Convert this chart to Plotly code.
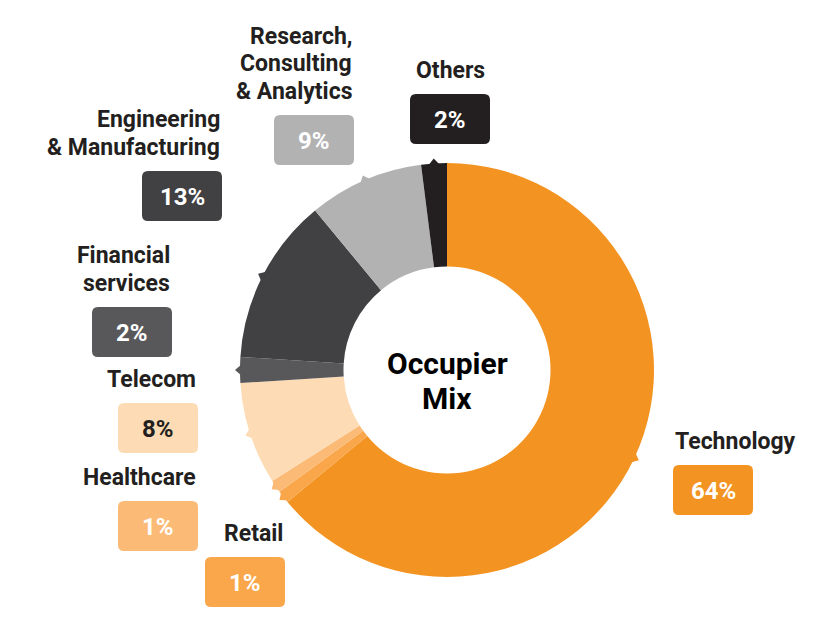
import math
import plotly.graph_objects as go

# sectors clockwise from 12 o'clock
sectors = ["Technology", "Retail", "Healthcare", "Telecom", "Financial services",
           "Engineering & Manufacturing", "Research, Consulting & Analytics", "Others"]
shares = [64, 1, 1, 8, 2, 13, 9, 2]
label_lines = [["Technology"], ["Retail"], ["Healthcare"], ["Telecom"], ["Financial", "services"],
               ["Engineering", "& Manufacturing"], ["Research,", "Consulting", "& Analytics"], ["Others"]]

colors = ["#F39321", "#F9A74A", "#FBBB77", "#FDDBB4", "#58585A", "#414042", "#B2B2B2", "#231F20"]
pct_colors = ["white", "white", "white", "#231F20", "white", "white", "white", "white"]

# top-left corner of each value box (page pixels) and label alignment
box_pos = [(673, 465), (205, 557), (118, 501), (118, 403), (92, 307), (142, 171), (274, 115), (410, 94)]
label_align = ["left", "right", "right", "right", "right", "right", "right", "center"]
BOX_W, BOX_H, RAD = 80, 50, 6

PAGE_W, PAGE_H = 840, 627
OFF = 8  # body margin of the html page
FW, FH = PAGE_W - 2 * OFF, PAGE_H - 2 * OFF
CX, CY, R_OUT = 447, 370, 207

FONT = "Roboto"
DARK = "#231F20"


def rounded_box(x0, y0, w, h, r):
    x1, y1 = x0 + w, y0 + h
    return (f"M {x0 + r} {y0} L {x1 - r} {y0} Q {x1} {y0} {x1} {y0 + r} "
            f"L {x1} {y1 - r} Q {x1} {y1} {x1 - r} {y1} L {x0 + r} {y1} "
            f"Q {x0} {y1} {x0} {y1 - r} L {x0} {y0 + r} Q {x0} {y0} {x0 + r} {y0} Z")


fig = go.Figure()

fig.add_trace(go.Pie(
    labels=sectors, values=shares, sort=False, direction="clockwise", rotation=0,
    hole=0.5, marker=dict(colors=colors, line=dict(width=0)),
    textinfo="none", hoverinfo="label+percent", showlegend=False,
    domain=dict(x=[(CX - R_OUT - OFF) / FW, (CX + R_OUT - OFF) / FW],
                y=[(OFF + FH - CY - R_OUT) / FH, (OFF + FH - CY + R_OUT) / FH]),
))

shapes = []
annotations = []
total = sum(shares)
cum = 0
for i, v in enumerate(shares):
    # small notch on the rim at the middle of each sector
    mid = (cum + v / 2) / total * 2 * math.pi
    cum += v
    ux, uy = math.sin(mid), -math.cos(mid)
    tx, ty = -uy, ux
    bx, by = CX + ux * (R_OUT - 2), CY + uy * (R_OUT - 2)
    px, py = CX + ux * (R_OUT + 5), CY + uy * (R_OUT + 5)
    shapes.append(dict(
        type="path", xref="x", yref="y", layer="above", line=dict(width=0),
        fillcolor=colors[i],
        path=f"M {bx + tx * 6} {by + ty * 6} L {px} {py} L {bx - tx * 6} {by - ty * 6} Z"))

    x0, y0 = box_pos[i]
    shapes.append(dict(type="path", xref="x", yref="y", line=dict(width=0),
                       fillcolor=colors[i], path=rounded_box(x0, y0, BOX_W, BOX_H, RAD)))
    annotations.append(dict(
        x=x0 + BOX_W / 2, y=y0 + BOX_H / 2 + 1, xref="x", yref="y", showarrow=False,
        text=f"{v}%", font=dict(family=FONT, size=24, color=pct_colors[i], weight=700)))

    if label_align[i] == "left":
        lx, xa = x0, "left"
    elif label_align[i] == "right":
        lx, xa = x0 + BOX_W, "right"
    else:
        lx, xa = x0 + BOX_W / 2, "center"
    lines = label_lines[i]
    for j, line in enumerate(lines):
        ly = y0 - 24 - (len(lines) - 1 - j) * 27.5
        annotations.append(dict(
            x=lx, y=ly, xref="x", yref="y", xanchor=xa, yanchor="middle",
            showarrow=False, text=line,
            font=dict(family=FONT, size=23, color=DARK, weight=700)))

for line, ly in [("Occupier", CY - 7), ("Mix", CY + 28)]:
    annotations.append(dict(
        x=CX, y=ly, xref="x", yref="y", showarrow=False, text=line,
        font=dict(family=FONT, size=30, color="black", weight=700)))

fig.update_layout(
    width=FW, height=FH, margin=dict(l=0, r=0, t=0, b=0),
    paper_bgcolor="white", plot_bgcolor="white",
    xaxis=dict(range=[OFF, OFF + FW], visible=False, fixedrange=True),
    yaxis=dict(range=[OFF + FH, OFF], visible=False, fixedrange=True),
    shapes=shapes, annotations=annotations,
)

fig.write_html("out.html")
